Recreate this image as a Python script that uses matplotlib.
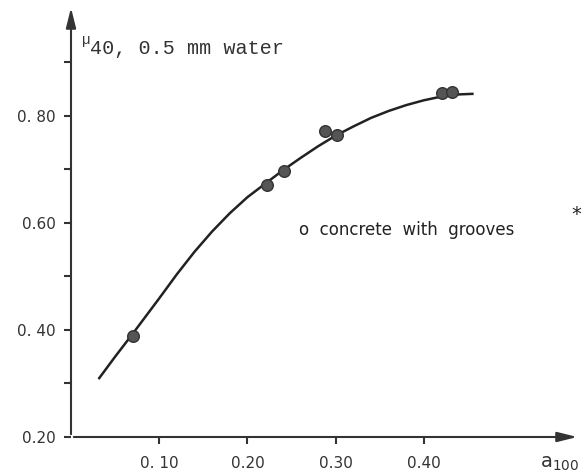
import matplotlib
matplotlib.use("Agg")
import matplotlib.pyplot as plt

# measured points (concrete with grooves)
pts_x = [0.070, 0.222, 0.241, 0.288, 0.302, 0.420, 0.432]
pts_y = [0.388, 0.670, 0.696, 0.772, 0.765, 0.843, 0.844]

# fitted curve
curve_x = [0.032, 0.05, 0.07, 0.10, 0.12, 0.14, 0.16, 0.18, 0.20, 0.22, 0.24,
           0.26, 0.28, 0.30, 0.32, 0.34, 0.36, 0.38, 0.40, 0.42, 0.44, 0.455]
curve_y = [0.310, 0.350, 0.393, 0.459, 0.504, 0.546, 0.584, 0.618, 0.648, 0.673, 0.698,
           0.721, 0.743, 0.763, 0.780, 0.796, 0.809, 0.820, 0.829, 0.836, 0.840, 0.841]

xticks = [0.10, 0.20, 0.30, 0.40]
xlabels = ["0. 10", "0.20", "0.30", "0.40"]
yticks = [0.20, 0.40, 0.60, 0.80]
ylabels = ["0.20", "0. 40", "0.60", "0. 80"]
yminor = [0.30, 0.50, 0.70, 0.90]

W, H = 583, 473
fig = plt.figure(figsize=(W / 100, H / 100), dpi=100)
ax = fig.add_axes([71 / W, 36 / H, (580 - 71) / W, (437 - 5) / H])
ax.set_xlim(0, 0.577)
ax.set_ylim(0.20, 1.007)

for s in ax.spines.values():
    s.set_visible(False)

ax.annotate("", xy=(1, 0), xytext=(0, 0), xycoords="axes fraction",
            arrowprops=dict(arrowstyle="-|>,head_length=1.2,head_width=0.3", color="#333333", lw=1.5))
ax.annotate("", xy=(0, 1), xytext=(0, 0), xycoords="axes fraction",
            arrowprops=dict(arrowstyle="-|>,head_length=1.2,head_width=0.3", color="#333333", lw=1.5))

ax.plot(curve_x, curve_y, color="#222222", lw=1.8, zorder=3, solid_joinstyle="round")
ax.scatter(pts_x, pts_y, s=70, color="#555555", edgecolor="#333333", zorder=4)

ax.set_xticks(xticks)
ax.set_xticklabels(xlabels)
ax.set_yticks(yticks)
ax.set_yticklabels(ylabels)
ax.set_yticks(yminor, minor=True)
ax.tick_params(axis="x", direction="out", length=5, width=1.5, pad=9, labelsize=11, colors="#333333")
ax.tick_params(axis="y", which="both", direction="out", length=5, width=1.5, pad=6, labelsize=11, colors="#333333")

ax.text(0.013, 0.935, "\u00b5", family="Liberation Mono", fontsize=10, color="#333333")
ax.text(0.021, 0.915, "40, 0.5 mm water", family="Liberation Mono", fontsize=14.5, color="#333333")
ax.text(0.532, 0.151, "a$_{100}$", fontsize=14, color="#333333", va="center", clip_on=False)
ax.text(0.258, 0.587, "o  concrete  with  grooves", fontsize=12, color="#222222", va="center")
ax.text(0.567, 0.615, "*", fontsize=14, color="#222222", va="center", clip_on=False)

fig.savefig("out.png", dpi=100, facecolor="white")
